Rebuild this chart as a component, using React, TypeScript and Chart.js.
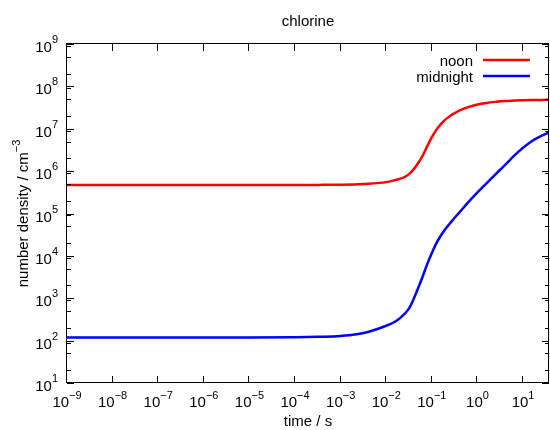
import { useEffect, useRef } from "react";
import { Chart, registerables } from "chart.js";

Chart.register(...registerables);

// ---- data ----
const times = [
  1e-9, 1e-7, 1e-5, 1e-4, 3.2e-4, 1e-3, 3.2e-3, 0.01, 0.0158, 0.02, 0.0251, 0.0316, 0.0398, 0.0501,
  0.0631, 0.0794, 0.1, 0.126, 0.158, 0.2, 0.251, 0.316, 0.398, 0.631, 1, 1.58, 2.51, 3.98, 6.31, 10,
  15.8, 25.1, 37,
];
const noon = [
  4.68e5, 4.68e5, 4.68e5, 4.7e5, 4.73e5, 4.79e5, 5.0e5, 5.5e5, 6.17e5, 6.6e5, 7.24e5, 8.5e5, 1.1e6, 1.55e6,
  2.34e6, 3.89e6, 6.31e6, 9.55e6, 1.29e7, 1.66e7, 2.0e7, 2.34e7, 2.69e7, 3.24e7, 3.72e7, 4.07e7, 4.32e7,
  4.52e7, 4.62e7, 4.7e7, 4.75e7, 4.79e7, 4.81e7,
];
const midnight = [
  119, 119, 119, 120, 123, 129, 151, 224, 282, 339, 427, 575, 955, 1740,
  3310, 6460, 1.17e4, 2.0e4, 3.02e4, 4.37e4, 5.89e4, 7.94e4, 1.05e5, 1.86e5, 3.16e5, 5.13e5, 8.51e5,
  1.38e6, 2.29e6, 3.55e6, 5.13e6, 6.76e6, 8.13e6,
];
const seriesLabels = ["noon", "midnight"];
const seriesColors = ["#ff0000", "#0000ff"];
const xTickExponents = [-9, -8, -7, -6, -5, -4, -3, -2, -1, 0, 1];
const yTickExponents = [1, 2, 3, 4, 5, 6, 7, 8, 9];
const yMinorMultipliers = [2, 5, 9];
const xRange = [1e-9, 37];
const yRange = [10, 1e9];
const titleText = "chlorine";
const xTitleText = "time / s";
const yTitleBase = "number density / cm";
const yTitleSup = "\u22123";

const FAMILY = "'Liberation Sans', Arial, Helvetica, sans-serif";
const MAIN_FONT = `15px ${FAMILY}`;
const SUP_FONT = `11px ${FAMILY}`;

function supText(n: number) {
  return n < 0 ? "\u2212" + Math.abs(n) : String(n);
}

function drawPower(ctx: CanvasRenderingContext2D, base: string, exp: string, x: number, baseline: number, align: "center" | "right", raise: number) {
  ctx.font = MAIN_FONT;
  const wb = ctx.measureText(base).width;
  ctx.font = SUP_FONT;
  const we = ctx.measureText(exp).width;
  const total = wb + we;
  const start = align === "center" ? x - total / 2 : x - total;
  ctx.textAlign = "left";
  ctx.textBaseline = "alphabetic";
  ctx.font = MAIN_FONT;
  ctx.fillText(base, start, baseline);
  ctx.font = SUP_FONT;
  ctx.fillText(exp, start + wb, baseline - raise);
}

const gnuplotDecor = {
  id: "gnuplotDecor",
  afterDatasetsDraw(chart: any) {
    const { ctx, chartArea: a, scales } = chart;
    const xs = scales.x;
    const ys = scales.y;
    ctx.save();
    ctx.strokeStyle = "#000";
    ctx.fillStyle = "#000";
    ctx.lineWidth = 1;

    // border
    ctx.strokeRect(a.left - 0.5, a.top - 0.5, a.right - a.left, a.bottom - a.top);

    const major = 7;
    const minor = 4;
    ctx.beginPath();
    xTickExponents.forEach((e) => {
      const px = Math.round(xs.getPixelForValue(Math.pow(10, e))) - 0.5;
      ctx.moveTo(px, a.bottom);
      ctx.lineTo(px, a.bottom - major);
      ctx.moveTo(px, a.top);
      ctx.lineTo(px, a.top + major);
    });
    yTickExponents.forEach((e) => {
      const py = Math.round(ys.getPixelForValue(Math.pow(10, e))) + 0.5;
      ctx.moveTo(a.left, py);
      ctx.lineTo(a.left + major, py);
      ctx.moveTo(a.right, py);
      ctx.lineTo(a.right - major, py);
      if (e < 9) {
        yMinorMultipliers.forEach((m) => {
          const pm = Math.round(ys.getPixelForValue(m * Math.pow(10, e))) + 0.5;
          ctx.moveTo(a.left, pm);
          ctx.lineTo(a.left + minor, pm);
          ctx.moveTo(a.right, pm);
          ctx.lineTo(a.right - minor, pm);
        });
      }
    });
    ctx.stroke();

    // tick labels
    xTickExponents.forEach((e) => {
      const px = xs.getPixelForValue(Math.pow(10, e));
      drawPower(ctx, "10", supText(e), px, a.bottom + 24, "center", 8);
    });
    yTickExponents.forEach((e) => {
      const py = ys.getPixelForValue(Math.pow(10, e));
      drawPower(ctx, "10", supText(e), a.left - 9, py + 8, "right", 9);
    });

    // title
    ctx.font = MAIN_FONT;
    ctx.textAlign = "center";
    ctx.textBaseline = "alphabetic";
    const cx = (a.left + a.right) / 2;
    ctx.fillText(titleText, cx, 26);

    // x title
    ctx.fillText(xTitleText, cx, 426);

    // y title (rotated)
    ctx.save();
    ctx.translate(28, (a.top + a.bottom) / 2);
    ctx.rotate(-Math.PI / 2);
    drawPower(ctx, yTitleBase, yTitleSup, 0, 0, "center", 8);
    ctx.restore();

    // legend (gnuplot style: text right-aligned, sample on the right)
    const legendTextRight = a.right - 76;
    const sampleLeft = a.right - 66;
    const sampleRight = a.right - 19;
    seriesLabels.forEach((label, i) => {
      const yMid = 60 + i * 16;
      ctx.font = MAIN_FONT;
      ctx.textAlign = "right";
      ctx.textBaseline = "alphabetic";
      ctx.fillStyle = "#000";
      ctx.fillText(label, legendTextRight, yMid + 6);
      ctx.strokeStyle = seriesColors[i];
      ctx.lineWidth = 2.5;
      ctx.beginPath();
      ctx.moveTo(sampleLeft, yMid);
      ctx.lineTo(sampleRight, yMid);
      ctx.stroke();
    });

    ctx.restore();
  },
};

export default function App() {
  const canvasRef = useRef<HTMLCanvasElement | null>(null);

  useEffect(() => {
    const canvas = canvasRef.current;
    if (!canvas) return;
    const series = [noon, midnight];
    const chart = new Chart(canvas, {
      type: "line",
      data: {
        datasets: series.map((vals, i) => ({
          label: seriesLabels[i],
          data: times.map((t, j) => ({ x: t, y: vals[j] })),
          borderColor: seriesColors[i],
          backgroundColor: seriesColors[i],
          borderWidth: 2.5,
          pointRadius: 0,
          fill: false,
          cubicInterpolationMode: "monotone" as const,
        })),
      },
      options: {
        animation: false,
        responsive: false,
        devicePixelRatio: 1,
        layout: { padding: { left: 67, right: 1, top: 44, bottom: 47 } },
        plugins: {
          legend: { display: false },
          title: { display: false },
          tooltip: { enabled: false },
        },
        scales: {
          x: { type: "logarithmic", min: xRange[0], max: xRange[1], display: false },
          y: { type: "logarithmic", min: yRange[0], max: yRange[1], display: false },
        },
      },
      plugins: [gnuplotDecor],
    });
    return () => chart.destroy();
  }, []);

  return (
    <div style={{ position: "absolute", left: 0, top: 0, width: 550, height: 430, background: "#fff" }}>
      <canvas ref={canvasRef} width={550} height={430} style={{ display: "block" }} />
    </div>
  );
}
